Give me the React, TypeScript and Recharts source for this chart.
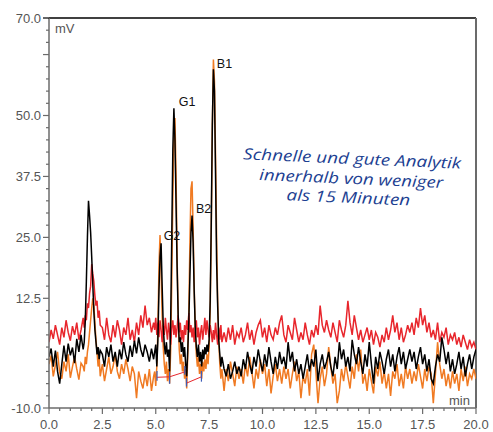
import { LineChart, Line, XAxis, YAxis, ReferenceLine, ReferenceDot } from "recharts";

// Chromatogram: three overlaid detector traces (mV vs. min).

const W = 493;
const H = 432;

const BLACK = "#000000";
const RED = "#e8262c";
const ORANGE = "#f07a22";
const BLUE = "#3d5db8";
const AXIS = "#6b6b6b";
const TICK_TEXT = "#555555";
const NOTE = "#1d3f92";

// retention time (min), denser sampling round the peaks
const minutesA = [0.0, 0.1, 0.2, 0.3, 0.4, 0.5, 0.6, 0.7, 0.8, 0.9, 1.0, 1.1, 1.2, 1.3, 1.4, 1.5, 1.6];
const minutesB = [1.65, 1.7, 1.75, 1.8, 1.85, 1.9, 1.95, 2.0, 2.05, 2.1, 2.15, 2.2, 2.25, 2.3, 2.35, 2.4];
const minutesC = [
  2.5, 2.6, 2.7, 2.8, 2.9, 3.0, 3.1, 3.2, 3.3, 3.4,
  3.5, 3.6, 3.7, 3.8, 3.9, 4.0, 4.1, 4.2, 4.3, 4.4,
  4.5, 4.6, 4.7, 4.8, 4.9,
];
const minutesD = [
  4.95, 5.0, 5.05, 5.1, 5.15, 5.2, 5.25, 5.3,
  5.35, 5.4, 5.45, 5.5, 5.55, 5.6, 5.65, 5.7,
  5.75, 5.8, 5.85, 5.9, 5.95, 6.0, 6.05, 6.1,
  6.15, 6.2, 6.25, 6.3, 6.35, 6.4, 6.45, 6.5,
  6.55, 6.6, 6.65, 6.7, 6.75, 6.8, 6.85, 6.9,
  6.95, 7.0, 7.05, 7.1, 7.15, 7.2, 7.25, 7.3,
  7.35, 7.4, 7.45, 7.5, 7.55, 7.6, 7.65, 7.7,
  7.75, 7.8, 7.85, 7.9, 7.95, 8.0, 8.05, 8.1,
];
const minutesE = [
  8.2, 8.3, 8.4, 8.5, 8.6, 8.7, 8.8, 8.9,
  9.0, 9.1, 9.2, 9.3, 9.4, 9.5, 9.6, 9.7, 9.8, 9.9,
  10.0, 10.1, 10.2, 10.3, 10.4, 10.5, 10.6, 10.7, 10.8, 10.9,
  11.0, 11.1, 11.2, 11.3, 11.4, 11.5, 11.6, 11.7, 11.8, 11.9,
  12.0, 12.1, 12.2, 12.3, 12.4, 12.5, 12.6, 12.7, 12.8, 12.9,
  13.0, 13.1, 13.2, 13.3, 13.4, 13.5, 13.6, 13.7, 13.8, 13.9,
  14.0, 14.1, 14.2, 14.3, 14.4, 14.5, 14.6, 14.7, 14.8, 14.9,
  15.0, 15.1, 15.2, 15.3, 15.4, 15.5, 15.6, 15.7, 15.8, 15.9,
  16.0, 16.1, 16.2, 16.3, 16.4, 16.5, 16.6, 16.7, 16.8, 16.9,
  17.0, 17.1, 17.2, 17.3, 17.4, 17.5, 17.6, 17.7, 17.8, 17.9,
  18.0, 18.1, 18.2, 18.3, 18.4, 18.5, 18.6, 18.7, 18.8, 18.9,
  19.0, 19.1, 19.2, 19.3, 19.4, 19.5, 19.6, 19.7, 19.8, 19.9,
  20.0,
];

// black trace (mV)
const blackA = [0.5, 2.2, -1.5, 1.8, -2.5, -5.0, -1.0, 2.8, -0.5, 3.2, 0.8, 2.4, -0.8, 4.2, 1.5, 5.0, 2.0];
const blackB = [3.5, 8.0, 16.0, 25.0, 32.5, 29.5, 26.0, 21.0, 15.5, 10.0, 6.0, 3.5, 1.0, 2.5, 0.0, 1.8];
const blackC = [
  1.0, -1.5, 2.5, 0.5, 3.0, -0.5, 1.5, -1.5, 2.0, 0.0,
  3.5, 1.0, -0.5, 2.8, 0.5, 3.8, 1.2, 4.5, 2.0, 0.5,
  3.0, 1.5, -0.5, 2.2, 0.0,
];
const blackD = [
  1.5, 3.0, -1.5, 4.0, 14.0, 21.0, 23.8, 15.0,
  7.0, 3.0, 1.0, 3.5, 0.5, 2.0, -2.5, 8.0,
  25.0, 43.0, 51.5, 45.0, 32.0, 19.0, 9.0, 3.5,
  4.5, 1.5, 3.5, 0.5, 2.5, -1.0, -3.5, 2.0,
  8.0, 17.0, 26.0, 29.5, 24.0, 14.0, 6.5, 2.5,
  0.5, 3.0, -0.5, 1.5, -1.5, 2.0, 0.0, 2.5,
  1.0, 3.0, 1.5, 4.0, 12.0, 28.0, 48.0, 59.5,
  55.0, 38.0, 20.0, 11.0, 4.0, 1.0, -1.5, 0.5,
];
const blackE = [
  -2.0, -3.5, -1.0, -4.0, -2.5, -0.5, -3.0, -1.5,
  -3.5, 0.0, -2.0, 1.5, -1.0, -3.0, 0.5, -1.5, 2.0, -0.5,
  -2.5, 1.0, -1.5, 2.5, -0.5, -3.0, 0.5, -2.0, 1.5, -1.0,
  0.5, -2.0, 3.5, -0.5, 1.5, -2.5, 0.0, -3.0, -1.0, -4.0,
  -1.5, 1.0, -2.5, 0.0, -1.5, 2.0, -4.5, -1.0, 1.0, -2.0,
  -0.5, 1.5, -1.5, -3.5, 0.5, -2.0, 3.5, 0.0, 2.0, -1.5,
  0.5, -2.5, 4.0, 1.0, -1.0, 2.5, -0.5, -3.0, 1.0, -1.5,
  3.5, -1.0, -5.0, 0.5, -2.0, 1.5, -0.5, -3.0, 0.0, 2.0,
  -1.5, 1.0, -2.5, 0.5, 2.5, -1.0, 1.5, -2.0, 0.0, 2.0,
  -0.5, 1.5, -2.0, 0.5, 2.5, -1.0, 1.0, -2.5, 0.0, -4.0,
  -5.0, -1.5, 1.0, -0.5, 4.5, 2.0, -1.0, 1.5, -2.5, 0.0,
  -3.0, -1.0, 1.5, -2.0, 0.5, -3.5, -1.0, 1.0, -2.0, 0.5,
  2.0,
];

// red trace (mV)
const redA = [3.5, 6.0, 4.2, 7.0, 5.0, 3.0, 6.5, 4.5, 8.0, 5.5, 3.8, 6.8, 5.0, 7.5, 4.0, 6.0, 8.5];
const redB = [6.5, 9.0, 8.0, 11.5, 10.5, 13.5, 15.0, 19.5, 17.5, 16.0, 13.0, 11.0, 12.0, 8.5, 10.0, 7.0];
const redC = [
  6.5, 4.0, 8.5, 5.0, 3.5, 7.0, 4.5, 8.0, 6.0, 3.0,
  6.5, 5.0, 8.5, 4.0, 6.0, 3.5, 7.5, 5.0, 9.0, 6.5,
  11.0, 7.0, 8.5, 5.5, 7.5,
];
const redD = [
  6.0, 8.5, 5.0, 7.5, 4.5, 8.0, 6.0, 3.5,
  7.0, 5.0, 8.5, 6.0, 4.0, 7.5, 5.5, 3.0,
  6.5, 8.0, 5.0, 7.0, 4.5, 6.5, 9.0, 5.5,
  7.5, 4.0, 6.0, 3.5, 7.0, 5.0, 8.0, 6.0,
  9.5, 5.5, 7.0, 4.5, 6.5, 3.5, 6.0, 8.0,
  4.5, 6.5, 3.0, 5.5, 7.0, 4.0, 6.0, 8.5,
  5.0, 8.0, 6.0, 4.5, 7.0, 5.5, 3.5, 6.0,
  4.0, 7.5, 5.0, 3.0, 6.5, 4.0, 7.0, 3.5,
];
const redE = [
  5.5, 3.5, 6.5, 4.0, 7.0, 3.0, 5.5, 4.5,
  6.5, 3.5, 5.0, 7.5, 4.0, 6.0, 3.0, 5.5, 7.0, 8.0,
  4.5, 6.5, 3.5, 7.0, 5.0, 4.0, 6.5, 5.0, 7.5, 9.0,
  5.0, 3.5, 7.0, 5.5, 4.0, 8.5, 6.0, 3.5, 5.5, 4.0,
  7.5, 5.0, 3.0, 6.0, 4.5, 7.0, 5.0, 11.0, 7.0, 5.5,
  8.0, 6.0, 4.5, 7.5, 5.5, 3.5, 8.0, 6.0, 4.5, 7.0,
  12.0, 7.5, 5.0, 9.0, 6.5, 4.0, 6.0, 3.5, 5.0, 6.5,
  4.0, 6.0, 3.0, 5.5, 4.5, 2.5, 5.0, 3.5, 6.5, 4.0,
  6.0, 9.0, 5.5, 7.5, 4.0, 6.5, 3.5, 5.0, 7.0, 5.5,
  7.5, 5.0, 8.5, 6.5, 10.5, 7.0, 9.0, 5.5, 7.5, 4.5,
  6.0, 4.0, 7.5, 3.5, 5.5, 4.5, 6.5, 3.0, 5.0, 4.0,
  5.5, 3.0, 4.5, 2.5, 5.0, 3.5, 2.0, 4.0, 2.5, 3.5,
  2.0,
];

// orange trace (mV)
const orangeA = [-1.0, 0.8, -3.5, -1.2, 1.5, -2.8, -4.0, -0.5, -2.5, 1.0, -3.8, -1.5, 0.5, -2.0, -4.2, -0.8, -1.5];
const orangeB = [-2.5, 0.5, -1.0, 1.5, 3.0, 5.5, 8.0, 10.5, 12.5, 11.0, 7.5, 4.0, 1.5, -1.5, 0.5, -3.5];
const orangeC = [
  -1.0, -4.5, -2.0, 0.5, -3.0, -1.5, 1.0, -2.5, -4.0, -1.0,
  -3.0, 0.0, -2.0, -4.5, -1.5, -3.0, -8.0, -2.5, -4.5, -6.0,
  -3.0, -5.5, -2.0, -6.5, -3.5,
];
const orangeD = [
  -2.5, -5.5, -1.5, 6.0, 19.0, 25.5, 18.0, 9.0,
  2.5, -1.0, -3.0, -0.5, -4.5, -2.0, -5.0, 2.0,
  16.0, 33.0, 45.0, 49.5, 38.0, 21.0, 9.0, 2.0,
  -1.0, 1.0, -2.5, -0.5, -4.0, -2.0, -6.0, 1.0,
  10.0, 24.0, 35.0, 36.5, 27.0, 15.0, 6.0, 1.0,
  -1.5, 0.5, -3.0, -1.0, -4.0, -0.5, -2.5, 0.0,
  -2.0, 1.0, -1.0, 2.5, 10.0, 26.0, 47.0, 61.5,
  57.0, 42.0, 25.0, 12.0, 4.0, -1.0, -4.0, -2.0,
];
const orangeE = [
  -6.5, -2.0, -4.5, -0.5, -3.0, -5.5, -1.5, -4.0,
  -2.0, -5.0, -1.0, -3.5, 0.5, -2.5, -6.0, -2.0, -4.0, 0.0,
  -3.0, -1.0, -5.5, -2.0, -7.0, -3.5, -1.0, -4.5, -2.0, -5.0,
  -1.5, -4.0, -2.0, -6.0, -3.0, -0.5, -4.5, -2.5, -8.0, -3.5,
  -5.0, -2.0, -7.5, 1.0, 3.0, -2.5, -9.0, -4.0, -1.5, -5.5,
  -3.0, 2.5, -1.5, -5.0, -3.0, -9.0, -6.5, -2.0, -4.5, -1.0,
  -3.5, -6.0, -1.5, -4.0, 1.0, -2.5, 2.0, -5.0, -3.0, -6.5,
  -2.0, -4.5, -7.0, -1.5, -3.5, -0.5, -5.0, -2.5, -6.0, -3.0,
  -7.5, -2.5, -4.0, -1.0, -5.5, -3.0, -6.0, -1.5, -4.0, -2.0,
  -5.0, -2.5, -4.5, -1.0, -3.5, -6.0, -2.0, -4.5, -1.5, -3.0,
  -9.0, -3.0, 3.5, -1.0, -4.0, -2.0, -5.5, -3.0, -6.0, -2.5,
  -5.0, -3.0, -6.5, -2.0, -4.5, -1.5, -5.5, -3.0, -4.0, -2.0,
  -4.0,
];

// integration baselines drawn under G2/G1 and B2/B1
const baselineG = [
  { t: 5.06, mv: -3.7 },
  { t: 5.65, mv: -3.6 },
  { t: 6.36, mv: -2.6 },
];
const baselineB = [
  { t: 6.44, mv: -4.9 },
  { t: 7.14, mv: -3.6 },
];
// short blue peak-start/end marks: time, top, bottom
const markTimes = [5.06, 5.65, 6.36, 6.44, 7.14];
const markTops = [-2.4, -2.6, -1.4, -3.8, -2.4];
const markBottoms = [-4.4, -5.0, -3.2, -5.6, -4.6];

const peakLabels = [
  { name: "G2", t: 5.37, mv: 25.3 },
  { name: "G1", t: 6.08, mv: 52.8 },
  { name: "B2", t: 6.88, mv: 30.9 },
  { name: "B1", t: 7.86, mv: 60.6 },
];

const xTicks = [
  0, 0.5, 1, 1.5, 2, 2.5, 3, 3.5, 4, 4.5, 5, 5.5, 6, 6.5, 7, 7.5, 8, 8.5, 9, 9.5, 10,
  10.5, 11, 11.5, 12, 12.5, 13, 13.5, 14, 14.5, 15, 15.5, 16, 16.5, 17, 17.5, 18, 18.5, 19, 19.5, 20,
];
const yTicks = [
  -10, -7.5, -5, -2.5, 0, 2.5, 5, 7.5, 10, 12.5, 15, 17.5, 20, 22.5, 25, 27.5, 30, 32.5,
  35, 37.5, 40, 42.5, 45, 47.5, 50, 52.5, 55, 57.5, 60, 62.5, 65, 67.5, 70,
];
const yLabelled = [70, 50, 37.5, 25, 12.5, -10];
const yMajor = [70, 62.5, 50, 37.5, 25, 12.5, -10];

const noteLines = ["Schnelle und gute Analytik", "innerhalb von weniger", "als 15 Minuten"];

const minutes = [...minutesA, ...minutesB, ...minutesC, ...minutesD, ...minutesE];
const black = [...blackA, ...blackB, ...blackC, ...blackD, ...blackE];
const red = [...redA, ...redB, ...redC, ...redD, ...redE];
const orange = [...orangeA, ...orangeB, ...orangeC, ...orangeD, ...orangeE];

const rows = minutes.map((t, i) => ({ t, black: black[i], red: red[i], orange: orange[i] }));

const TICK_FONT = "'Liberation Sans', Arial, sans-serif";

function XTick(props: any) {
  const { x, y, payload } = props;
  const v = payload.value as number;
  const major = v % 2.5 === 0;
  return (
    <g>
      <line x1={x} x2={x} y1={y} y2={y + (major ? 6 : 3)} stroke={AXIS} strokeWidth={1.2} />
      {major && (
        <text x={x} y={y + 21} textAnchor="middle" fontFamily={TICK_FONT} fontSize={13} fill={TICK_TEXT}>
          {v.toFixed(1)}
        </text>
      )}
    </g>
  );
}

function YTick(props: any) {
  const { x, y, payload } = props;
  const v = payload.value as number;
  const major = yMajor.includes(v);
  return (
    <g>
      <line
        x1={x - (major ? 6 : 3)}
        x2={x}
        y1={y}
        y2={y}
        stroke={v === 70 ? BLACK : AXIS}
        strokeWidth={1.2}
      />
      {yLabelled.includes(v) && (
        <text x={x - 8} y={y + 4.5} textAnchor="end" fontFamily={TICK_FONT} fontSize={13} fill={TICK_TEXT}>
          {v.toFixed(1)}
        </text>
      )}
    </g>
  );
}

export default function App() {
  return (
    <div style={{ position: "absolute", left: 0, top: 0, width: W, height: H, background: "#fff" }}>
      <LineChart width={W} height={H} data={rows} margin={{ top: 18, right: 17, bottom: 0, left: 0 }}>
        <XAxis
          dataKey="t"
          type="number"
          domain={[0, 20]}
          ticks={xTicks}
          interval={0}
          height={24}
          tickSize={0}
          tickMargin={0}
          tickLine={false}
          axisLine={{ stroke: AXIS, strokeWidth: 1.5 }}
          tick={<XTick />}
          allowDataOverflow
        />
        <YAxis
          type="number"
          domain={[-10, 70]}
          ticks={yTicks}
          interval={0}
          width={49}
          tickSize={0}
          tickMargin={0}
          tickLine={false}
          axisLine={{ stroke: AXIS, strokeWidth: 1.5 }}
          tick={<YTick />}
          allowDataOverflow
        />
        <ReferenceLine y={70} stroke={BLACK} strokeWidth={1.5} />
        <ReferenceLine x={20} stroke={AXIS} strokeWidth={2} />

        <Line dataKey="orange" stroke={ORANGE} strokeWidth={1.5} dot={false} activeDot={false} isAnimationActive={false} />
        <Line dataKey="red" stroke={RED} strokeWidth={1.5} dot={false} activeDot={false} isAnimationActive={false} />
        <Line dataKey="black" stroke={BLACK} strokeWidth={1.5} dot={false} activeDot={false} isAnimationActive={false} />

        <Line data={baselineG} dataKey="mv" stroke={RED} strokeWidth={1} dot={false} activeDot={false} isAnimationActive={false} />
        <Line data={baselineB} dataKey="mv" stroke={RED} strokeWidth={1} dot={false} activeDot={false} isAnimationActive={false} />
        {markTimes.map((t, i) => (
          <Line
            key={`mark-${i}`}
            data={[
              { t, mv: markTops[i] },
              { t, mv: markBottoms[i] },
            ]}
            dataKey="mv"
            stroke={BLUE}
            strokeWidth={1.2}
            dot={false}
            activeDot={false}
            isAnimationActive={false}
          />
        ))}

        {peakLabels.map((p) => (
          <ReferenceDot
            key={p.name}
            x={p.t}
            y={p.mv}
            r={0}
            fill="none"
            stroke="none"
            label={{
              value: p.name,
              position: "right",
              offset: 0,
              fill: "#111",
              fontSize: 12.5,
              fontFamily: TICK_FONT,
            }}
          />
        ))}
      </LineChart>

      <svg width={W} height={H} style={{ position: "absolute", left: 0, top: 0, pointerEvents: "none" }}>
        <text x={55} y={32.5} fontFamily={TICK_FONT} fontSize={13} fill={TICK_TEXT}>
          mV
        </text>
        <text x={449} y={404.5} fontFamily={TICK_FONT} fontSize={13} fill={TICK_TEXT}>
          min
        </text>
        <g transform="rotate(2.5 351 183)" fontFamily="'Open Sans', 'Noto Sans', sans-serif" fontStyle="italic" fontSize={15.5} fill={NOTE}>
          <text x={351} y={164} textAnchor="middle" textLength={218} lengthAdjust="spacingAndGlyphs">
            {noteLines[0]}
          </text>
          <text x={351} y={184} textAnchor="middle" textLength={184} lengthAdjust="spacingAndGlyphs">
            {noteLines[1]}
          </text>
          <text x={349} y={203} textAnchor="middle" textLength={124} lengthAdjust="spacingAndGlyphs">
            {noteLines[2]}
          </text>
        </g>
      </svg>
    </div>
  );
}
